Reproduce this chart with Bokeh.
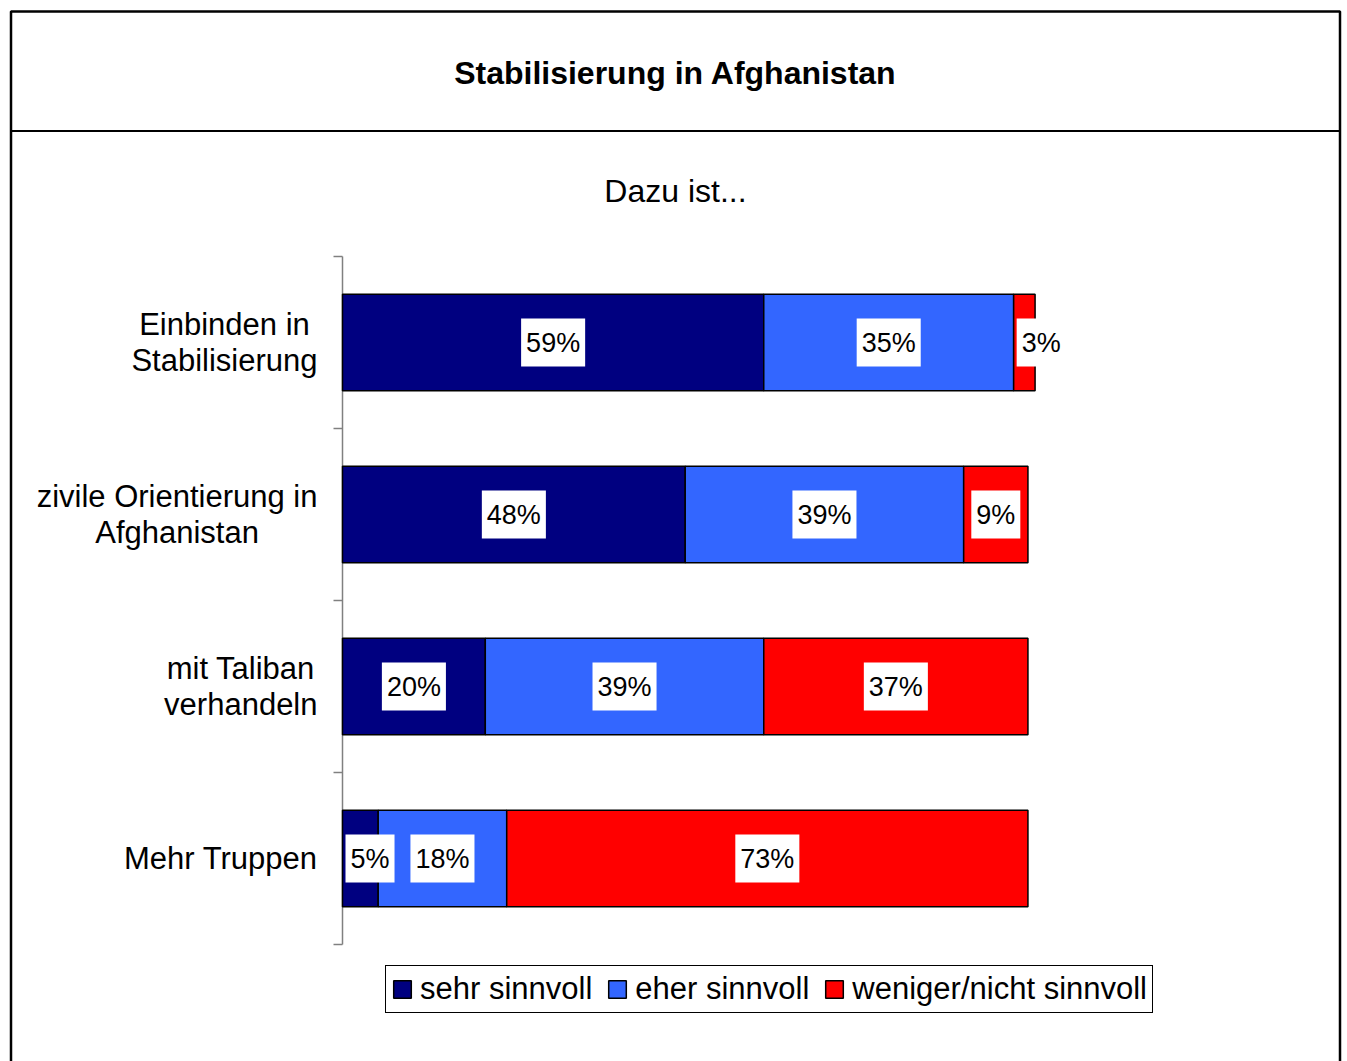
from bokeh.plotting import figure
from bokeh.models import (ColumnDataSource, Range1d, Legend, LegendItem, Label, BoxAnnotation)
from bokeh.core.properties import value, field
from bokeh.embed import file_html
from bokeh.resources import INLINE

# ---- data ----
categories = ["Einbinden in\nStabilisierung", "zivile Orientierung in\nAfghanistan",
              "mit Taliban\nverhandeln", "Mehr Truppen"]
series = ["sehr sinnvoll", "eher sinnvoll", "weniger/nicht sinnvoll"]
sehr = [59, 48, 20, 5]
eher = [35, 39, 39, 18]
weniger = [3, 9, 37, 73]
colors = ["#000080", "#3366FF", "#FF0000"]
title_text = "Stabilisierung in Afghanistan"
subtitle_text = "Dazu ist..."

# ---- layout (pixels) ----
FONT = "Liberation Sans"
W, H = 1347, 1061
AX_X, AX_X100 = 342, 1056      # pixel positions of 0 % and 100 %
AX_TOP, AX_BOT = 256, 944      # top and bottom of the category axis
N = len(categories)
PXX = (AX_X100 - AX_X) / 100.0
PXY = (AX_BOT - AX_TOP) / N
TICK = 9

ypos = [N - 0.5 - i for i in range(N)]  # category slot centres, first category on top

p = figure(width=W, height=H,
           x_range=Range1d(-AX_X / PXX, (W - AX_X) / PXX),
           y_range=Range1d(-(H - AX_BOT) / PXY, AX_BOT / PXY),
           output_backend="svg", toolbar_location=None,
           x_axis_location=None, y_axis_location=None, title_location=None,
           min_border=0, min_border_left=0, min_border_right=0,
           min_border_top=0, min_border_bottom=0)
p.outline_line_color = None
p.xgrid.visible = False
p.ygrid.visible = False

# outer frame and title divider
p.add_layout(BoxAnnotation(left=10.5, right=1339.5, top=H - 11, bottom=-20,
                           left_units="screen", right_units="screen", top_units="screen",
                           bottom_units="screen", fill_alpha=0, line_color="black",
                           line_width=2.5, line_alpha=1, level="underlay"))
p.add_layout(BoxAnnotation(left=10.5, right=1339.5, top=H - 129.5, bottom=H - 131.5,
                           left_units="screen", right_units="screen", top_units="screen",
                           bottom_units="screen", fill_color="black", fill_alpha=1,
                           line_color=None, level="underlay"))

# category axis: line and ticks at the category boundaries
edges = list(range(N + 1))
p.segment(x0=[0], y0=[0], x1=[0], y1=[N], line_color="#808080", line_width=1.5)
p.segment(x0=[0] * len(edges), x1=[-TICK / PXX] * len(edges), y0=edges, y1=edges,
          line_color="#808080", line_width=1.5)

src = ColumnDataSource(dict(cat=categories, y=ypos, sehr=sehr, eher=eher, weniger=weniger))
rs = p.hbar_stack(["sehr", "eher", "weniger"], y="y", height=0.56, fill_color=colors,
                  line_color="black", line_width=1.5, source=src)

# data labels (labels of narrow segments start at the segment's left edge)
lx, ly, lt, la, lo = [], [], [], [], []
for i, c in enumerate(categories):
    start = 0
    for vals in (sehr, eher, weniger):
        v = vals[i]
        if v < 6:
            lx.append(start); la.append("left"); lo.append(3)
        else:
            lx.append(start + v / 2); la.append("center"); lo.append(0)
        ly.append(ypos[i]); lt.append(f"{v}%")
        start += v
lsrc = ColumnDataSource(dict(x=lx, y=ly, t=lt, a=la, o=lo))
p.text(x="x", y="y", text="t", source=lsrc, text_align=field("a"), x_offset="o",
       text_baseline="middle", text_font=value(FONT), text_font_size="27px",
       text_color="black", background_fill_color="white",
       padding=dict(left=5, right=5, top=9, bottom=9))

# category labels
for i, c in enumerate(categories):
    p.add_layout(Label(x=0, y=ypos[i], text=c, x_offset=-25,
                       anchor="center_right", text_align="center", text_font=FONT,
                       text_font_size="31px", text_color="black", text_line_height=1.05))

# title / subtitle
p.add_layout(Label(x=675, y=H - 72, x_units="screen", y_units="screen", text=title_text,
                   anchor="center", text_align="center", text_font=FONT,
                   text_font_size="32px", text_font_style="bold", text_color="black"))
p.add_layout(Label(x=675, y=H - 190, x_units="screen", y_units="screen", text=subtitle_text,
                   anchor="center", text_align="center", text_font=FONT,
                   text_font_size="32px", text_color="black"))

legend = Legend(items=[LegendItem(label=s, renderers=[r]) for s, r in zip(series, rs)],
                orientation="horizontal", location=(385, H - 1013), label_text_font=FONT,
                label_text_font_size="31px", label_text_color="black",
                glyph_width=22, glyph_height=22,
                label_standoff=7, spacing=14, padding=5, margin=0,
                border_line_color="black", border_line_width=1, border_line_alpha=1)
p.add_layout(legend, "center")

open("out.html", "w").write(file_html(p, INLINE))
